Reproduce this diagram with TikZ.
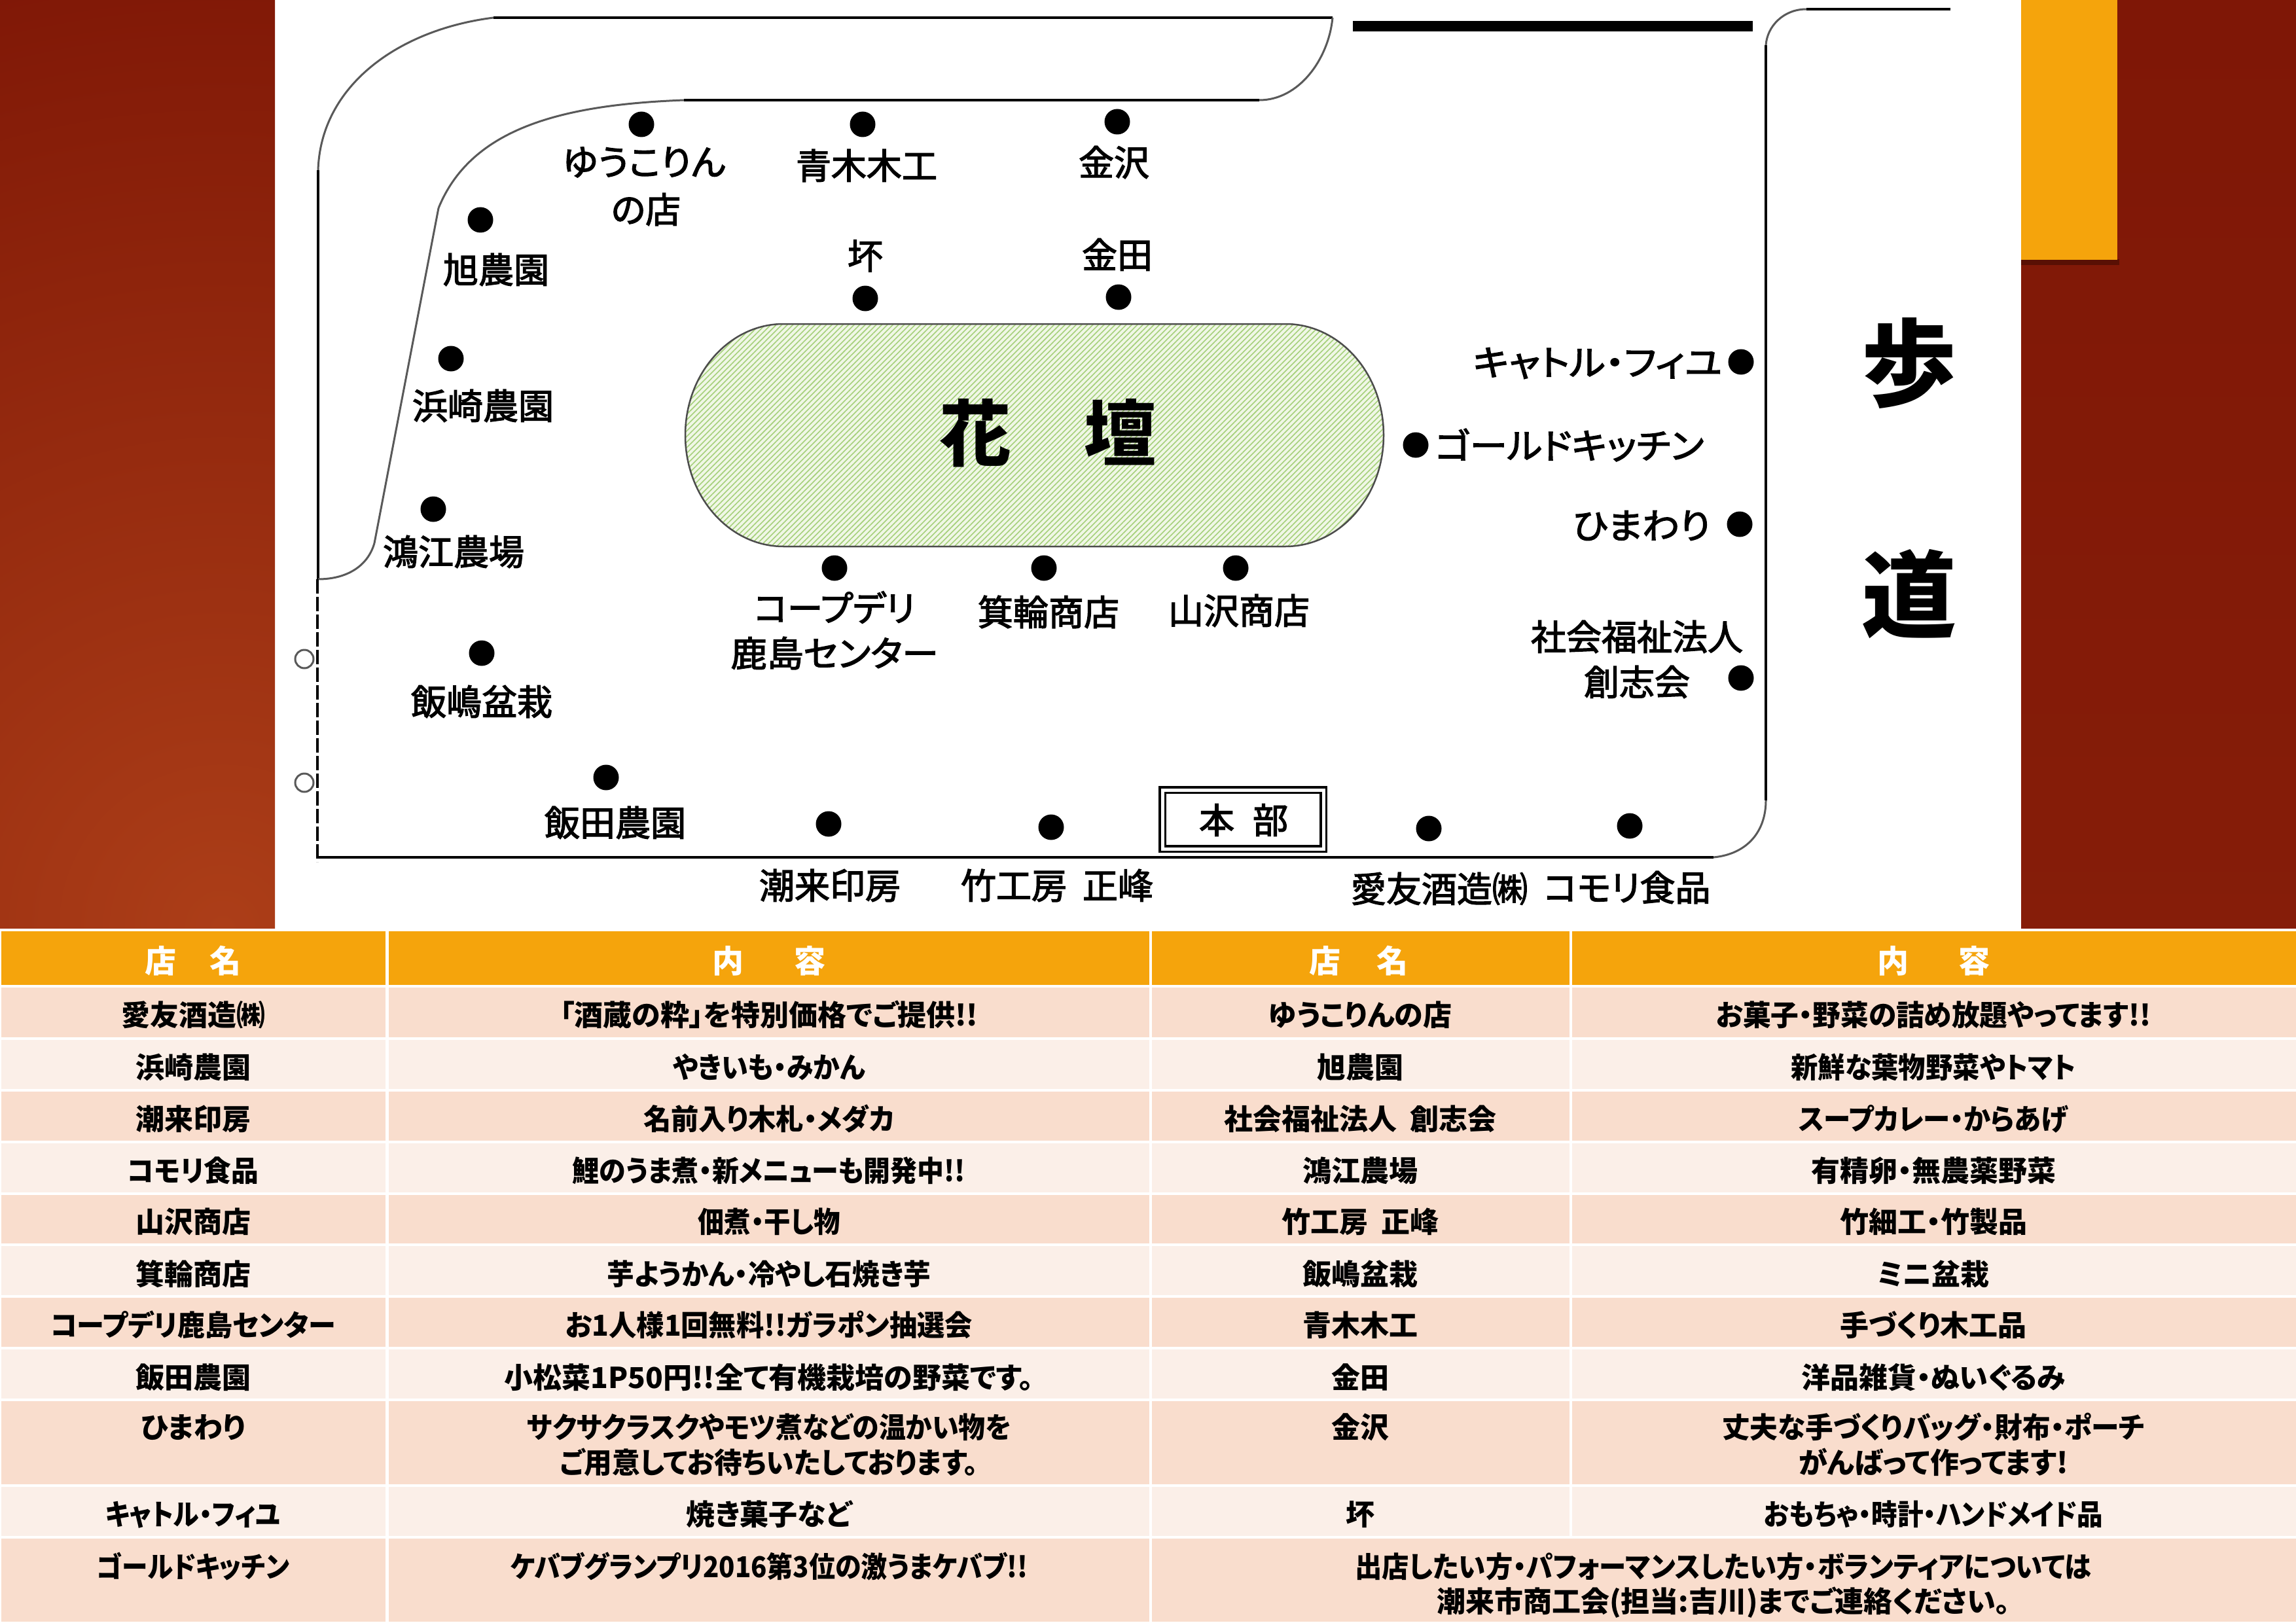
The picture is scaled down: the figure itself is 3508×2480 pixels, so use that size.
\documentclass[tikz,border=0pt]{standalone}
\usepackage{fontspec}
\usetikzlibrary{patterns.meta}
\newfontfamily\mapfont[RawFeature=+palt, FakeBold=2.5]{Noto Sans CJK JP}
\newfontfamily\markfont{Noto Sans CJK JP}
\newfontfamily\cellfont[RawFeature=+palt]{Noto Sans CJK JP}
\newcommand{\nar}[2]{\scalebox{#1}[1]{#2}}
\definecolor{bandorange}{HTML}{F5A40C}
\definecolor{rowdark}{HTML}{F9DDCD}
\definecolor{rowlight}{HTML}{FBEFE8}
\definecolor{panelred}{HTML}{7F1706}
\definecolor{panelglow}{HTML}{AC3E18}
\definecolor{bedgreen}{HTML}{F0F7E6}
\definecolor{bedline}{HTML}{A5D07A}
\tikzset{
    roadline/.style={line width=4.5pt, black},
    roadcurve/.style={line width=3pt, black!65},
    stall/.style={circle, fill=black, inner sep=0pt, minimum size=39pt},
    maplabel/.style={inner sep=0pt, font=\mapfont\fontsize{54}{60}\selectfont},
    bigmark/.style={inner sep=0pt, font=\markfont\bfseries\fontsize{110}{120}\selectfont},
    cell/.style={inner sep=0pt, text height=39pt, text depth=5pt,
        font=\cellfont\bfseries\fontsize{44}{50}\selectfont},
    headcell/.style={cell, text=white, text height=42pt, text depth=6pt,
        font=\cellfont\bfseries\fontsize{48}{54}\selectfont},
}
\begin{document}
\begin{tikzpicture}[x=1pt, y=-1pt]
    \useasboundingbox (0,0) rectangle (3508,2480);
    \fill[white] (0,0) rectangle (3508,2480);

    % Red side panels
    \fill[panelred] (0,0) rectangle (420,1418);
    \begin{scope}
        \clip (0,0) rectangle (420,1418);
        \shade[inner color=panelglow, outer color=panelred] (340,1418) circle (1500);
    \end{scope}
    \shade[top color=panelred, bottom color=panelred!85!panelglow] (3088,0) rectangle (3508,1418);
    \fill[black!30!panelred] (3088,396) rectangle (3238,405);
    \fill[bandorange] (3088,0) rectangle (3235,397);

    % Road outline
    \draw[roadline] (486,885) -- (486,260);
    \draw[roadcurve] (486,260) .. controls (490,130) and (610,45) .. (754,27);
    \draw[roadline] (754,27) -- (2036,27);
    \draw[roadcurve] (2036,27) .. controls (2030,90) and (1985,153) .. (1924,153);
    \draw[roadline] (1924,153) -- (1045,153);
    \draw[roadcurve] (1045,153) .. controls (860,160) and (720,195) .. (670,318);
    \draw[roadcurve] (670,318) -- (572,830);
    \draw[roadcurve] (572,830) .. controls (562,865) and (530,885) .. (486,885);
    \draw[roadline, dash pattern=on 22pt off 5pt] (485,885) -- (485,1317);
    \draw[roadline] (485,1310) -- (2618,1310);
    \draw[roadcurve] (2618,1310) .. controls (2670,1305) and (2698,1270) .. (2698,1223);
    \draw[roadline] (2698,1223) -- (2698,69);
    \draw[roadcurve] (2698,69) .. controls (2700,40) and (2725,14) .. (2760,14);
    \draw[roadline] (2760,14) -- (2980,14);
    \fill[black] (2067,32) rectangle (2678,48);
    \foreach \y in {1007,1196} {
        \draw[roadcurve, fill=white] (465,\y) circle (14);
    }

    % Flower bed
    \draw[line width=2.5pt, black!70, preaction={fill=bedgreen},
        pattern={Lines[angle=45, distance=6pt, line width=1.6pt]}, pattern color=bedline]
        (1197,495) arc[start angle=90, end angle=270, x radius=150pt, y radius=170pt]
        -- (1964,835) arc[start angle=270, end angle=450, x radius=150pt, y radius=170pt] -- cycle;
    \node[bigmark] (flower) at (1490,662) {花};
    \node[bigmark] (bed) at (1711,660) {壇};

    % Footpath
    \node[bigmark, font=\markfont\bfseries\fontsize{145}{150}\selectfont] (walk) at (2917,555) {歩};
    \node[bigmark, font=\markfont\bfseries\fontsize{145}{150}\selectfont] (path) at (2917,908) {道};

    % Office box
    \node[draw=black, double=white, double distance=5pt, line width=3.5pt, inner sep=0pt,
        minimum width=246pt, minimum height=90pt] (office) at (1899,1252) {};
    \node[maplabel] (hon) at (1859,1253) {本};
    \node[maplabel] (bu) at (1941,1253) {部};

    % Stall dots
    \foreach \name/\x/\y in {yuko/980/190, aoki/1318/190, kanazawa/1707/186, asahi/734/336,
        ban/1322/456, kaneda/1709/454, hamasaki/689/548, quatre/2660/553, gold/2163/680,
        koe/662/778, himawari/2658/801, coop/1275/868, minowa/1595/868, yamazawa/1888/868,
        iijima/736/998, sozo/2660/1036, iida/926/1188, itako/1266/1259, takekobo/1606/1264,
        aiyu/2183/1266, komori/2490/1262} {
        \node[stall] (\name) at (\x,\y) {};
    }

    % Stall names
    \foreach \name/\x/\y/\txt in {lyuko/984/248/\nar{1.04}{ゆうこりん}, lyukob/987/320/の店, laoki/1324/253/青木木工,
        lkanazawa/1702/248/金沢, lban/1322/391/坏, lkaneda/1707/389/金田, lasahi/758/412/旭農園,
        lhamasaki/738/620/浜崎農園, lkoe/693/843/鴻江農場, lquatre/2441/555/\nar{1.08}{キャトル・フィユ},
        lgold/2398/680/\nar{1.06}{ゴールドキッチン}, lhimawari/2508/803/\nar{1.05}{ひまわり}, lsozo/2501/973/社会福祉法人,
        lsozob/2501/1042/創志会, lcoop/1275/928/コープデリ, lcoopb/1275/998/\nar{1.03}{鹿島センター},
        lminowa/1602/935/箕輪商店, lyamazawa/1893/933/山沢商店, liijima/736/1072/飯嶋盆栽,
        liida/940/1257/飯田農園, litako/1268/1353/潮来印房, ltakekobo/1615/1353/竹工房\hspace{24pt}正峰,
        laiyu/2199/1358/愛友酒造㈱, lkomori/2486/1356/コモリ食品} {
        \node[maplabel] (\name) at (\x,\y) {\txt};
    }

    % Table bands
    \foreach \top/\bot/\col in {1423/1505/bandorange, 1509/1585/rowdark, 1589/1664/rowlight,
        1668/1743/rowdark, 1747/1822/rowlight, 1826/1900/rowdark, 1904/1979/rowlight,
        1983/2058/rowdark, 2062/2137/rowlight, 2141/2268/rowdark, 2272/2347/rowlight} {
        \foreach \lft/\rgt in {2/589, 594/1756, 1760/2398, 2402/3508} {
            \fill[\col] (\lft,\top) rectangle (\rgt,\bot);
        }
    }
    \foreach \lft/\rgt in {2/589, 594/1756, 1760/3508} {
        \fill[rowdark] (\lft,2351) rectangle (\rgt,2478);
    }

    % Table head
    \foreach \n/\x/\txt in {1/295/店\hspace{52pt}名, 2/1175/内\hspace{77pt}容,
        3/2076/店\hspace{55pt}名, 4/2954/内\hspace{76pt}容} {
        \node[headcell] (head\n) at (\x,1468) {\txt};
    }

    % Table rows
    \foreach \n/\y/\shop/\goods/\shopb/\goodsb in {
        1/1550/愛友酒造㈱/「酒蔵の粋」を特別価格でご提供!!/ゆうこりんの店/\nar{0.97}{お菓子・野菜の詰め放題やってます!!},
        2/1630/浜崎農園/\nar{0.93}{やきいも・みかん}/旭農園/\nar{0.94}{新鮮な葉物野菜やトマト},
        3/1709/潮来印房/\nar{0.96}{名前入り木札・メダカ}/社会福祉法人\hspace{20pt}創志会/\nar{0.94}{スープカレー・からあげ},
        4/1788/\nar{0.95}{コモリ食品}/\nar{0.93}{鯉のうま煮・新メニューも開発中!!}/鴻江農場/有精卵・無農薬野菜,
        5/1866/山沢商店/\nar{0.92}{佃煮・干し物}/竹工房\hspace{20pt}正峰/竹細工・竹製品,
        6/1946/箕輪商店/\nar{0.95}{芋ようかん・冷やし石焼き芋}/飯嶋盆栽/ミニ盆栽,
        7/2024/\nar{0.955}{コープデリ鹿島センター}/\nar{0.96}{お1人様1回無料!!ガラポン抽選会}/青木木工/手づくり木工品,
        8/2104/飯田農園/小松菜1P50円!!全て有機栽培の野菜です。/金田/洋品雑貨・ぬいぐるみ,
        9/2180/ひまわり/\nar{0.93}{サクサクラスクやモツ煮などの温かい物を}/金沢/\nar{0.97}{丈夫な手づくりバッグ・財布・ポーチ},
        10/2313/\nar{0.91}{キャトル・フィユ}/焼き菓子など/坏/\nar{0.90}{おもちゃ・時計・ハンドメイド品}} {
        \node[cell] (shop\n) at (295,\y) {\shop};
        \node[cell] (goods\n) at (1175,\y) {\goods};
        \node[cell] (shopb\n) at (2078,\y) {\shopb};
        \node[cell] (goodsb\n) at (2954,\y) {\goodsb};
    }
    \node[cell] (goods9b) at (1175,2234) {\nar{0.97}{ご用意してお待ちいたしております。}};
    \node[cell] (goodsb9b) at (2954,2234) {がんばって作ってます!};

    % Last row
    \node[cell] (shop11) at (295,2393) {\nar{0.9}{ゴールドキッチン}};
    \node[cell] (goods11) at (1175,2393) {\nar{0.91}{ケバブグランプリ2016第3位の激うまケバブ!!}};
    \node[cell] (notea) at (2633,2393) {\nar{0.94}{出店したい方・パフォーマンスしたい方・ボランティアについては}};
    \node[cell] (noteb) at (2633,2446) {潮来市商工会(担当:吉川)までご連絡ください。};
\end{tikzpicture}
\end{document}
